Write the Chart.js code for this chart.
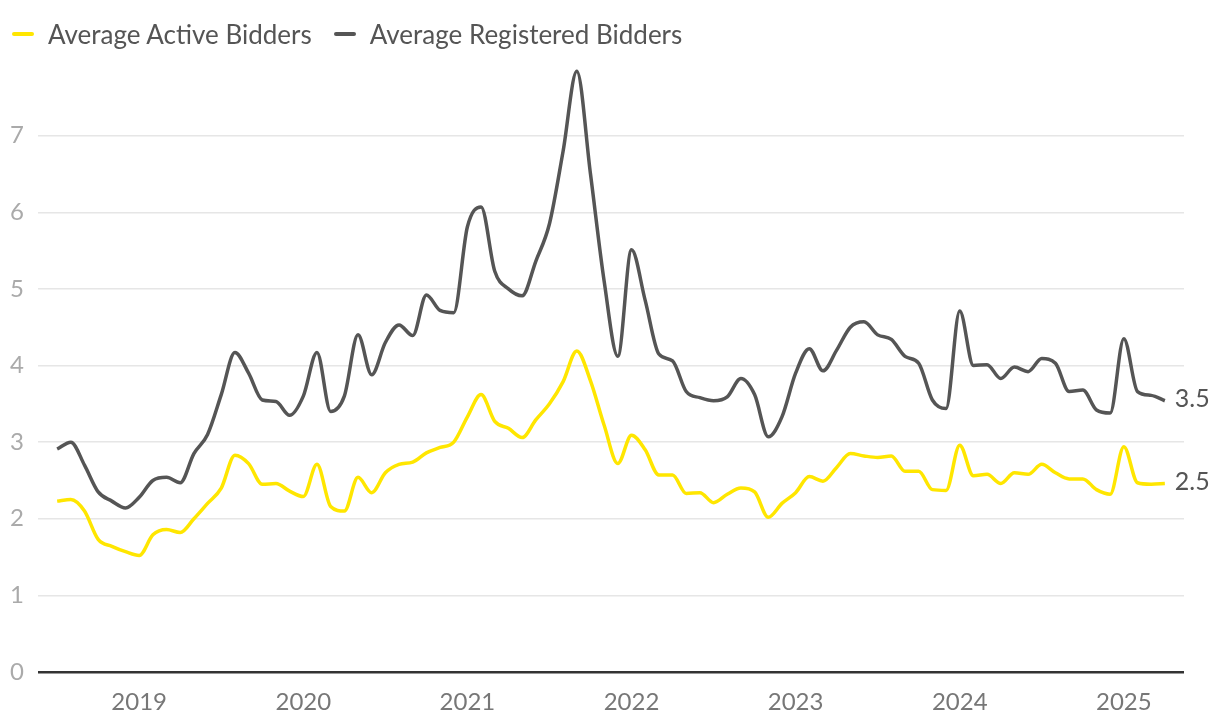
<!DOCTYPE html>
<html>
<head>
<meta charset="utf-8">
<script src="https://cdn.jsdelivr.net/npm/chart.js@4"></script>
<style>
  body { margin: 0; background: #fff; font-family: Lato, sans-serif; }
  #wrap { position: relative; width: 1220px; height: 728px; }
  #legend { position: absolute; top: 17px; left: 12px; display: flex; align-items: center; font-size: 26px; color: #555; line-height: 34px; }
  .item { display: flex; align-items: center; margin-right: 22px; }
  .mark { display: inline-block; width: 22px; height: 4px; border-radius: 2px; margin-right: 14px; }
</style>
</head>
<body>
<div id="wrap">
  <canvas id="chart" width="1220" height="728"></canvas>
  <div id="legend"></div>
</div>
<script>
// monthly, Jul 2018 .. Apr 2025
const startYear = 2018, startMonth = 7;
const months = [];
for (let k = 0; k < 82; k++) {
    const m = (startMonth - 1 + k) % 12 + 1;
    const y = startYear + Math.floor((startMonth - 1 + k) / 12);
    months.push(y + '-' + String(m).padStart(2, '0'));
}

const activeBidders = [
    2.23, 2.25, 2.1, 1.73, 1.64, 1.57, 1.52, 1.79, 1.86, 1.82, 2.0, 2.2,
    2.4, 2.83, 2.72, 2.45, 2.46, 2.36, 2.29, 2.71, 2.16, 2.1, 2.54, 2.34,
    2.6, 2.71, 2.74, 2.86, 2.93, 3.0, 3.33, 3.62, 3.27, 3.18, 3.06, 3.29,
    3.5, 3.79, 4.19, 3.8, 3.22, 2.72, 3.09, 2.9, 2.57, 2.57, 2.33, 2.34,
    2.21, 2.32, 2.4, 2.35, 2.02, 2.2, 2.34, 2.55, 2.49, 2.67, 2.85, 2.82,
    2.8, 2.82, 2.62, 2.62, 2.38, 2.37, 2.96, 2.56, 2.58, 2.46, 2.6, 2.58,
    2.71, 2.6, 2.52, 2.52, 2.38, 2.32, 2.94, 2.47, 2.45, 2.46
];

const registeredBidders = [
    2.91, 3.0, 2.7, 2.35, 2.23, 2.14, 2.28, 2.5, 2.54, 2.47, 2.85, 3.1,
    3.62, 4.17, 3.9, 3.55, 3.53, 3.35, 3.6, 4.17, 3.4, 3.6, 4.4, 3.88,
    4.3, 4.53, 4.39, 4.92, 4.72, 4.69, 5.81, 6.07, 5.23, 5.0, 4.91, 5.36,
    5.85, 6.8, 7.84, 6.5, 5.1, 4.12, 5.51, 4.85, 4.15, 4.06, 3.66, 3.58,
    3.54, 3.59, 3.83, 3.62, 3.07, 3.33, 3.9, 4.22, 3.93, 4.2, 4.5, 4.57,
    4.4, 4.34, 4.12, 4.03, 3.55, 3.44, 4.71, 4.0, 4.01, 3.83, 3.98, 3.92,
    4.09, 4.03, 3.66, 3.68, 3.42, 3.38, 4.35, 3.66, 3.61, 3.54
];

const yearTicks = ['2019', '2020', '2021', '2022', '2023', '2024', '2025'];
const yTicks = [0, 1, 2, 3, 4, 5, 6, 7];

const seriesNames = ['Average Active Bidders', 'Average Registered Bidders'];
const seriesColors = ['#ffe600', '#555555'];

// html legend
const legend = document.getElementById('legend');
seriesNames.forEach((name, i) => {
    const item = document.createElement('div');
    item.className = 'item';
    item.innerHTML = '<span class="mark" style="background:' + seriesColors[i] + '"></span>' + name;
    legend.appendChild(item);
});

const toPoints = arr => arr.map((v, i) => ({ x: i, y: v }));
const tickIndex = y => months.indexOf(y + '-01');

// value label at the end of each line
const endLabels = {
    id: 'endLabels',
    afterDatasetsDraw(chart) {
        const ctx = chart.ctx;
        ctx.save();
        ctx.font = '25px Lato';
        ctx.fillStyle = '#555';
        ctx.textAlign = 'left';
        ctx.textBaseline = 'middle';
        chart.data.datasets.forEach((ds, i) => {
            const meta = chart.getDatasetMeta(i);
            const last = meta.data[meta.data.length - 1];
            const v = ds.data[ds.data.length - 1].y;
            ctx.fillText(v.toFixed(1), last.x + 10, last.y - 2);
        });
        ctx.restore();
    }
};

const ctx = document.getElementById('chart').getContext('2d');
const chart = new Chart(ctx, {
    type: 'line',
    data: {
        datasets: [{
            label: seriesNames[0],
            data: toPoints(activeBidders),
            borderColor: seriesColors[0],
            borderWidth: 3.5,
            pointRadius: 0,
            cubicInterpolationMode: 'monotone',
            fill: false
        }, {
            label: seriesNames[1],
            data: toPoints(registeredBidders),
            borderColor: seriesColors[1],
            borderWidth: 3.5,
            pointRadius: 0,
            cubicInterpolationMode: 'monotone',
            fill: false
        }]
    },
    options: {
        responsive: false,
        animation: false,
        layout: { padding: { top: 59, right: 36, left: 0, bottom: 0 } },
        plugins: {
            legend: { display: false },
            tooltip: { enabled: false }
        },
        scales: {
            x: {
                type: 'linear',
                min: -1.4,
                max: 82.4,
                afterBuildTicks: scale => {
                    scale.ticks = yearTicks.map(y => ({ value: tickIndex(y) }));
                },
                afterFit: scale => { scale.height = 56; },
                ticks: {
                    callback: v => months[v].slice(0, 4),
                    font: { family: 'Lato', size: 24 },
                    color: '#777',
                    padding: 8,
                    maxRotation: 0,
                    autoSkip: false
                },
                grid: { display: false },
                border: { display: false }
            },
            y: {
                min: 0,
                max: 8,
                afterBuildTicks: scale => {
                    scale.ticks = yTicks.map(v => ({ value: v }));
                },
                afterFit: scale => { scale.width = 38; },
                ticks: {
                    font: { family: 'Lato', size: 24 },
                    color: '#aaa',
                    padding: 14
                },
                grid: {
                    drawTicks: false,
                    color: c => c.tick.value === 0 ? '#333' : '#e6e6e6',
                    lineWidth: c => c.tick.value === 0 ? 2.5 : 1.5
                },
                border: { display: false }
            }
        }
    },
    plugins: [endLabels]
});
</script>
</body>
</html>
